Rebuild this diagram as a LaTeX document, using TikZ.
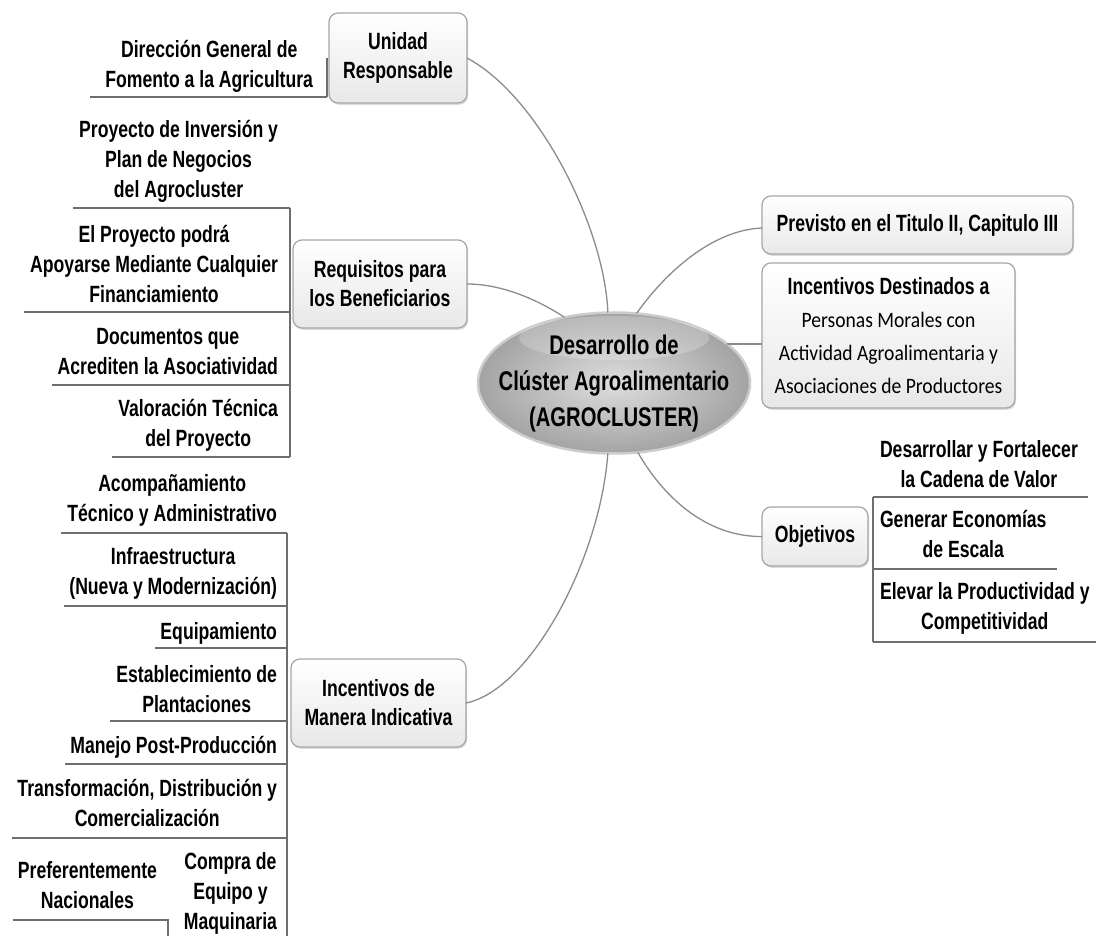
\documentclass[tikz,border=0pt]{standalone}
\usepackage{fontspec}
\setmainfont{Liberation Sans}[FakeStretch=0.75]
\newfontfamily\calfont{Carlito}[FakeStretch=0.89]
\usetikzlibrary{shapes.geometric,shadows}
\definecolor{connc}{HTML}{8C8C8C}
\definecolor{spinec}{HTML}{6E6E6E}
\definecolor{boxdraw}{HTML}{A6A6A6}
\tikzset{
 mmleaf/.style={inner sep=0pt, outer sep=0pt, align=center, font=\fontsize{23.5}{30}\selectfont\bfseries},
 mmbox/.style={draw=boxdraw, line width=1.2pt, rounded corners=9pt, top color=white, bottom color=black!9, inner sep=0pt, outer sep=0pt, align=center, font=\fontsize{23.5}{29}\selectfont\bfseries, drop shadow={shadow xshift=1.2pt, shadow yshift=-1.8pt, fill=black!30, opacity=0.45}},
 mmconn/.style={draw=connc, line width=1.3pt},
 mmspine/.style={draw=spinec, line width=1.4pt},
}
\begin{document}
\begin{tikzpicture}[x=1pt,y=-1pt]
\useasboundingbox (0,0) rectangle (1096,936);
\fill[white] (0,0) rectangle (1096,936);

% central hub
\node[ellipse, minimum width=272pt, minimum height=141pt, draw=black!20, line width=2.5pt, inner color=black!13, outer color=black!36, outer sep=0pt, inner sep=0pt] (ell) at (614,383) {};
\node[ellipse, minimum width=190pt, minimum height=44pt, fill=white, opacity=0.22, inner sep=0pt] (hl) at (614,338) {};
\node[align=center, inner sep=0pt, font=\fontsize{27}{36}\selectfont\bfseries] (elltxt) at (614,384) {Desarrollo de\\Clúster Agroalimentario\\(AGROCLUSTER)};

% main boxes
\node[mmbox, minimum width=138pt, minimum height=90pt] (unidad) at (398,58) {Unidad\\Responsable};
\node[mmbox, minimum width=174pt, minimum height=88pt] (req) at (380,284) {Requisitos para\\los Beneficiarios};
\node[mmbox, minimum width=175pt, minimum height=88pt] (man) at (378.5,703) {Incentivos de\\Manera Indicativa};
\node[mmbox, minimum width=311pt, minimum height=58pt] (prev) at (917.5,225) {Previsto en el Titulo II, Capitulo III};
\node[mmbox, minimum width=253pt, minimum height=145pt, font=\fontsize{23.5}{33}\selectfont\bfseries] (incd) at (888.5,335.5) {Incentivos Destinados a\\{\calfont\mdseries\fontsize{22}{33}\selectfont Personas Morales con}\\{\calfont\mdseries\fontsize{22}{33}\selectfont Actividad Agroalimentaria y}\\{\calfont\mdseries\fontsize{22}{33}\selectfont Asociaciones de Productores}};
\node[mmbox, minimum width=106pt, minimum height=59pt] (obj) at (815,536.5) {Objetivos};

% connectors from hub
\draw[mmconn] (unidad.east) .. controls (540,97) and (605,230) .. (ell.95);
\draw[mmconn] (req.east) .. controls (500,284) and (535,298) .. (ell.127);
\draw[mmconn] (ell.-95) .. controls (600,560) and (530,690) .. (man.east);
\draw[mmconn] (ell.72) .. controls (665,273) and (712,230) .. ([yshift=-3pt]prev.west);
\draw[mmconn] (ell.19) -- (ell.19 -| incd.west);
\draw[mmconn] (ell.-71) .. controls (662,495) and (705,537) .. (obj.west);

% Unidad responsable branch
\node[mmleaf, anchor=east] (dir) at (313,66) {Dirección General de\\Fomento a la Agricultura};
\coordinate (u1) at (327,97);
\draw[mmspine, line width=2pt] ([xshift=-2pt]unidad.west) -- (u1);
\draw[mmspine] ([xshift=-15pt]dir.west |- u1) -- (u1);

% Requisitos branch
\node[mmleaf, anchor=east] (p1) at (278,161) {Proyecto de Inversión y\\Plan de Negocios\\del Agrocluster};
\node[mmleaf, anchor=east] (p2) at (278,264) {El Proyecto podrá\\Apoyarse Mediante Cualquier\\Financiamiento};
\node[mmleaf, anchor=east] (p3) at (278,352) {Documentos que\\Acrediten la Asociatividad};
\node[mmleaf, anchor=east] (p4) at (278,425) {Valoración Técnica\\del Proyecto};
\coordinate (r1) at (290,208);
\coordinate (r2) at (290,312);
\coordinate (r3) at (290,385);
\coordinate (r4) at (290,457);
\draw[mmspine] (r1) -- (r4);
\draw[mmspine] ([xshift=-6pt]p1.west |- r1) -- (r1);
\draw[mmspine] ([xshift=-6pt]p2.west |- r2) -- (r2);
\draw[mmspine] ([xshift=-6pt]p3.west |- r3) -- (r3);
\draw[mmspine] ([xshift=-6pt]p4.west |- r4) -- (r4);

% Incentivos de manera indicativa branch
\node[mmleaf, anchor=east] (m1) at (277,500) {Acompañamiento\\Técnico y Administrativo};
\node[mmleaf, anchor=east] (m2) at (277,573) {Infraestructura\\(Nueva y Modernización)};
\node[mmleaf, anchor=east] (m3) at (277,633) {Equipamiento};
\node[mmleaf, anchor=east] (m4) at (277,689) {Establecimiento de\\Plantaciones};
\node[mmleaf, anchor=east] (m5) at (277,747) {Manejo Post-Producción};
\node[mmleaf, anchor=east] (m6) at (277,803) {Transformación, Distribución y\\Comercialización};
\node[mmleaf, anchor=east] (m7) at (277,893) {Compra de\\Equipo y\\Maquinaria};
\node[mmleaf, anchor=east] (m8) at (157,885) {Preferentemente\\Nacionales};
\coordinate (s1) at (287,533);
\coordinate (s2) at (287,606);
\coordinate (s3) at (287,648);
\coordinate (s4) at (287,721);
\coordinate (s5) at (287,764);
\coordinate (s6) at (287,838);
\coordinate (sb) at (287,936);
\draw[mmspine] (s1) -- (sb);
\draw[mmspine] ([xshift=-6pt]m1.west |- s1) -- (s1);
\draw[mmspine] ([xshift=-5pt]m2.west |- s2) -- (s2);
\draw[mmspine] ([xshift=-5pt]m3.west |- s3) -- (s3);
\draw[mmspine] ([xshift=-6pt]m4.west |- s4) -- (s4);
\draw[mmspine] ([xshift=-5pt]m5.west |- s5) -- (s5);
\draw[mmspine] ([xshift=-5pt]m6.west |- s6) -- (s6);
\coordinate (c1) at (168,920);
\coordinate (cb) at (168,936);
\draw[mmspine] ([xshift=-5pt]m8.west |- c1) -- (c1) -- (cb);

% Objetivos branch
\node[mmleaf, anchor=west] (o1) at (880,464) {Desarrollar y Fortalecer\\la Cadena de Valor};
\node[mmleaf, anchor=west] (o2) at (880,534) {Generar Economías\\de Escala};
\node[mmleaf, anchor=west] (o3) at (880,608) {Elevar la Productividad y\\Competitividad};
\coordinate (q1) at (873,497);
\coordinate (q2) at (873,569);
\coordinate (q3) at (873,642);
\draw[mmspine] (q1) -- (q3);
\draw[mmspine] (q1) -- ([xshift=10pt]o1.east |- q1);
\draw[mmspine] (q2) -- ([xshift=10pt]o2.east |- q2);
\draw[mmspine] (q3) -- ([xshift=10pt]o3.east |- q3);
\end{tikzpicture}
\end{document}
